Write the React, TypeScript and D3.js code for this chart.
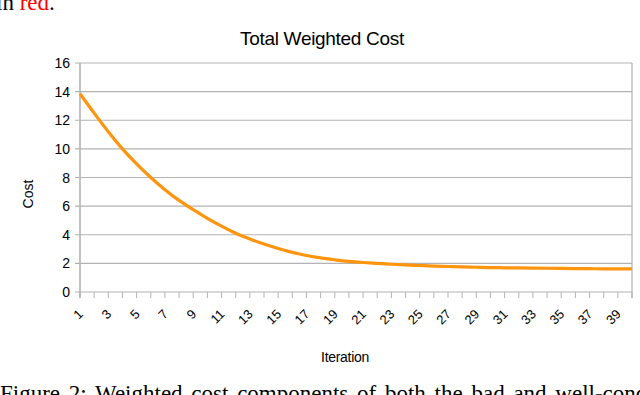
import { useRef, useEffect } from "react";
import { select, scaleLinear, line, curveMonotoneX, range } from "d3";

const iterations = range(1, 41);
const cost = [
  13.85, 12.5, 11.2, 10.0, 8.95, 8.0, 7.15, 6.4, 5.75, 5.15,
  4.6, 4.1, 3.7, 3.35, 3.04, 2.77, 2.55, 2.38, 2.25, 2.14,
  2.06, 2.0, 1.94, 1.89, 1.85, 1.81, 1.78, 1.75, 1.73, 1.71,
  1.69, 1.68, 1.67, 1.66, 1.65, 1.64, 1.63, 1.62, 1.62, 1.61,
];
const yTicks = [0, 2, 4, 6, 8, 10, 12, 14, 16];
const xLabels = iterations.filter((i) => i % 2 === 1);

const W = 640;
const H = 395;
const font = "'Liberation Sans', Arial, sans-serif";
const grid = "#b3b3b3";

export default function App() {
  const svgRef = useRef<SVGSVGElement>(null);

  useEffect(() => {
    const svg = select(svgRef.current);
    svg.selectAll("*").remove();

    const x = scaleLinear().domain([1, 40]).range([80, 632]);
    const y = scaleLinear().domain([0, 16]).range([292, 63]);

    // cropped paper text above and below the figure
    const top = svg.append("text")
      .attr("x", -4)
      .attr("y", 10)
      .attr("font-family", "'Liberation Serif', 'Times New Roman', serif")
      .attr("font-size", 23);
    top.append("tspan").text("in ");
    top.append("tspan").attr("fill", "#ff0000").text("red");
    top.append("tspan").text(".");

    svg.append("text")
      .attr("x", 0)
      .attr("y", 401)
      .attr("font-family", "'Liberation Serif', 'Times New Roman', serif")
      .attr("font-size", 23)
      .attr("word-spacing", 3)
      .text("Figure 2: Weighted cost components of both the bad and well-conditioned");

    svg.append("text")
      .attr("x", 322)
      .attr("y", 45)
      .attr("text-anchor", "middle")
      .attr("font-family", font)
      .attr("font-size", 19)
      .attr("letter-spacing", -0.3)
      .text("Total Weighted Cost");

    // horizontal gridlines
    svg.selectAll(".grid")
      .data(yTicks)
      .join("line")
      .attr("class", "grid")
      .attr("x1", 75)
      .attr("x2", 632)
      .attr("y1", (d) => y(d))
      .attr("y2", (d) => y(d))
      .attr("stroke", grid)
      .attr("stroke-width", 1.2);

    // y axis and right border
    svg.append("line")
      .attr("x1", 80).attr("x2", 80)
      .attr("y1", y(16)).attr("y2", 298)
      .attr("stroke", grid).attr("stroke-width", 1.6);
    svg.append("line")
      .attr("x1", 632).attr("x2", 632)
      .attr("y1", y(16)).attr("y2", 298)
      .attr("stroke", grid).attr("stroke-width", 1.2);

    svg.selectAll(".ylab")
      .data(yTicks)
      .join("text")
      .attr("class", "ylab")
      .attr("x", 70)
      .attr("y", (d) => y(d))
      .attr("dy", "0.36em")
      .attr("text-anchor", "end")
      .attr("font-family", font)
      .attr("font-size", 14)
      .text((d) => d);

    // x ticks at every category
    svg.selectAll(".xtick")
      .data(iterations)
      .join("line")
      .attr("class", "xtick")
      .attr("x1", (d) => x(d))
      .attr("x2", (d) => x(d))
      .attr("y1", 292)
      .attr("y2", 298)
      .attr("stroke", grid)
      .attr("stroke-width", 1);

    svg.selectAll(".xlab")
      .data(xLabels)
      .join("text")
      .attr("class", "xlab")
      .attr("transform", (d) => `translate(${x(d) - 3},${308}) rotate(-45)`)
      .attr("dy", "0.75em")
      .attr("text-anchor", "end")
      .attr("font-family", font)
      .attr("font-size", 13)
      .text((d) => d);

    svg.append("text")
      .attr("x", 345)
      .attr("y", 362)
      .attr("text-anchor", "middle")
      .attr("font-family", font)
      .attr("font-size", 14)
      .attr("letter-spacing", -0.3)
      .text("Iteration");

    svg.append("text")
      .attr("transform", "translate(33,194) rotate(-90)")
      .attr("text-anchor", "middle")
      .attr("font-family", font)
      .attr("font-size", 14)
      .text("Cost");

    const path = line<number>()
      .x((_, i) => x(iterations[i]))
      .y((d) => y(d))
      .curve(curveMonotoneX);

    svg.append("path")
      .datum(cost)
      .attr("d", path)
      .attr("fill", "none")
      .attr("stroke", "#ff950e")
      .attr("stroke-width", 3.2)
      .attr("stroke-linejoin", "round");
  }, []);

  return (
    <svg
      ref={svgRef}
      width={W}
      height={H}
      style={{ position: "absolute", left: 0, top: 0, background: "#fff" }}
    />
  );
}
